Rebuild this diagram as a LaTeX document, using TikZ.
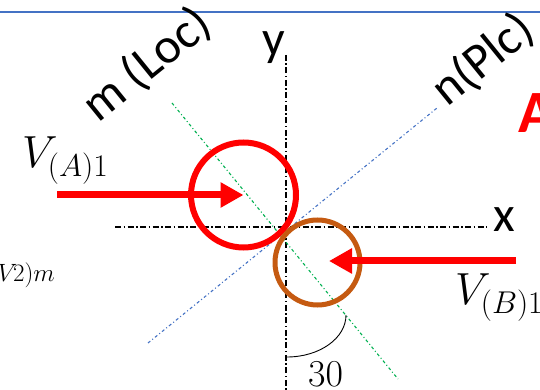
\RequirePackage{fix-cm}
\documentclass[tikz,border=0pt]{standalone}
\usepackage{fontspec}
\setmainfont{Carlito}
\usepackage{tikz}
\usetikzlibrary{arrows.meta, positioning, calc}
\definecolor{slideblue}{HTML}{4472C4}
\definecolor{ballbrown}{HTML}{C55A11}
\definecolor{lineofm}{HTML}{00B050}
\definecolor{ballred}{HTML}{FF0000}

\begin{document}
\begin{tikzpicture}[x=1pt, y=1pt,
    axis/.style={draw=black, line width=1.1pt, dash pattern=on 6pt off 2.5pt on 1.5pt off 2.5pt},
    mline/.style={draw=lineofm, line width=1.1pt, dash pattern=on 3pt off 2.5pt on 1pt off 2.5pt},
    nline/.style={draw=slideblue, line width=1.1pt, dash pattern=on 3pt off 2.5pt on 1pt off 2.5pt},
    ball/.style={circle, draw, inner sep=0pt, outer sep=0pt},
    vel/.style={draw=ballred, line width=7pt, -{Triangle[length=23pt, width=24pt]}},
    big/.style={font=\fontsize{50}{56}\selectfont, inner sep=0pt},
    vlabel/.style={font=\fontsize{45}{50}\selectfont, inner sep=0pt},
]
  \useasboundingbox (0,0) rectangle (540,390);
  \clip (0,0) rectangle (540,390);

  \coordinate (topL) at (0,378);
  \coordinate (topR) at (540,378);
  \draw[slideblue, line width=1.5pt] (topL) -- (topR);

  % axes
  \coordinate (xL) at (115,163);
  \coordinate (xR) at (487,163);
  \coordinate (yT) at (286,335);
  \coordinate (yB) at (286,0);
  \draw[axis] (xL) -- (xR);
  \draw[axis] (yT) -- (yB);
  \node[big, anchor=base west] (xlab) at (493,158) {x};
  \node[big, anchor=base west] (ylab) at (262,334) {y};

  % m and n directions
  \coordinate (mT) at (172,287);
  \coordinate (mB) at (398,11);
  \coordinate (nB) at (148,47);
  \coordinate (nT) at (437,282);
  \draw[mline] (mT) -- (mB);
  \draw[nline] (nB) -- (nT);
  \node[font=\fontsize{50}{56}\selectfont, rotate=39] (mlab) at (147,325) {m (Loc)};
  \node[font=\fontsize{50}{56}\selectfont, rotate=39] (nlab) at (483,330) {n(Plc)};

  % balls
  \node[ball, draw=ballred, line width=6pt, minimum size=105pt] (ballA) at (243.5,195) {};
  \node[ball, draw=ballbrown, line width=5pt, minimum size=85pt] (ballB) at (317.5,127.5) {};

  \coordinate (vAstart) at (57,195);
  \coordinate (vBstart) at (516,129);
  \coordinate (vBtip) at (329,129);
  \draw[vel] (vAstart) -- (ballA.center);
  \draw[vel] (vBstart) -- (vBtip);
  \node[vlabel, anchor=base west] (vA) at (22,222) {$V_{(A)1}$};
  \node[vlabel, anchor=base west] (vB) at (455,85) {$V_{(B)1}$};

  % angle
  \coordinate (angS) at (346,75);
  \draw[line width=0.9pt] (angS) arc[start angle=0, end angle=-90, x radius=59, y radius=42];
  \node[font=\fontsize{38}{42}\selectfont, inner sep=0pt, anchor=base west] (ang) at (308,3) {$30$};

  \node[font=\fontsize{60}{66}\selectfont\bfseries, text=ballred, inner sep=0pt, anchor=base west] (caseA) at (518,257) {A};
  \node[font=\fontsize{25}{30}\selectfont, inner sep=0pt, anchor=base east] (vm) at (55,108) {$V\!2)m$};
\end{tikzpicture}
\end{document}
